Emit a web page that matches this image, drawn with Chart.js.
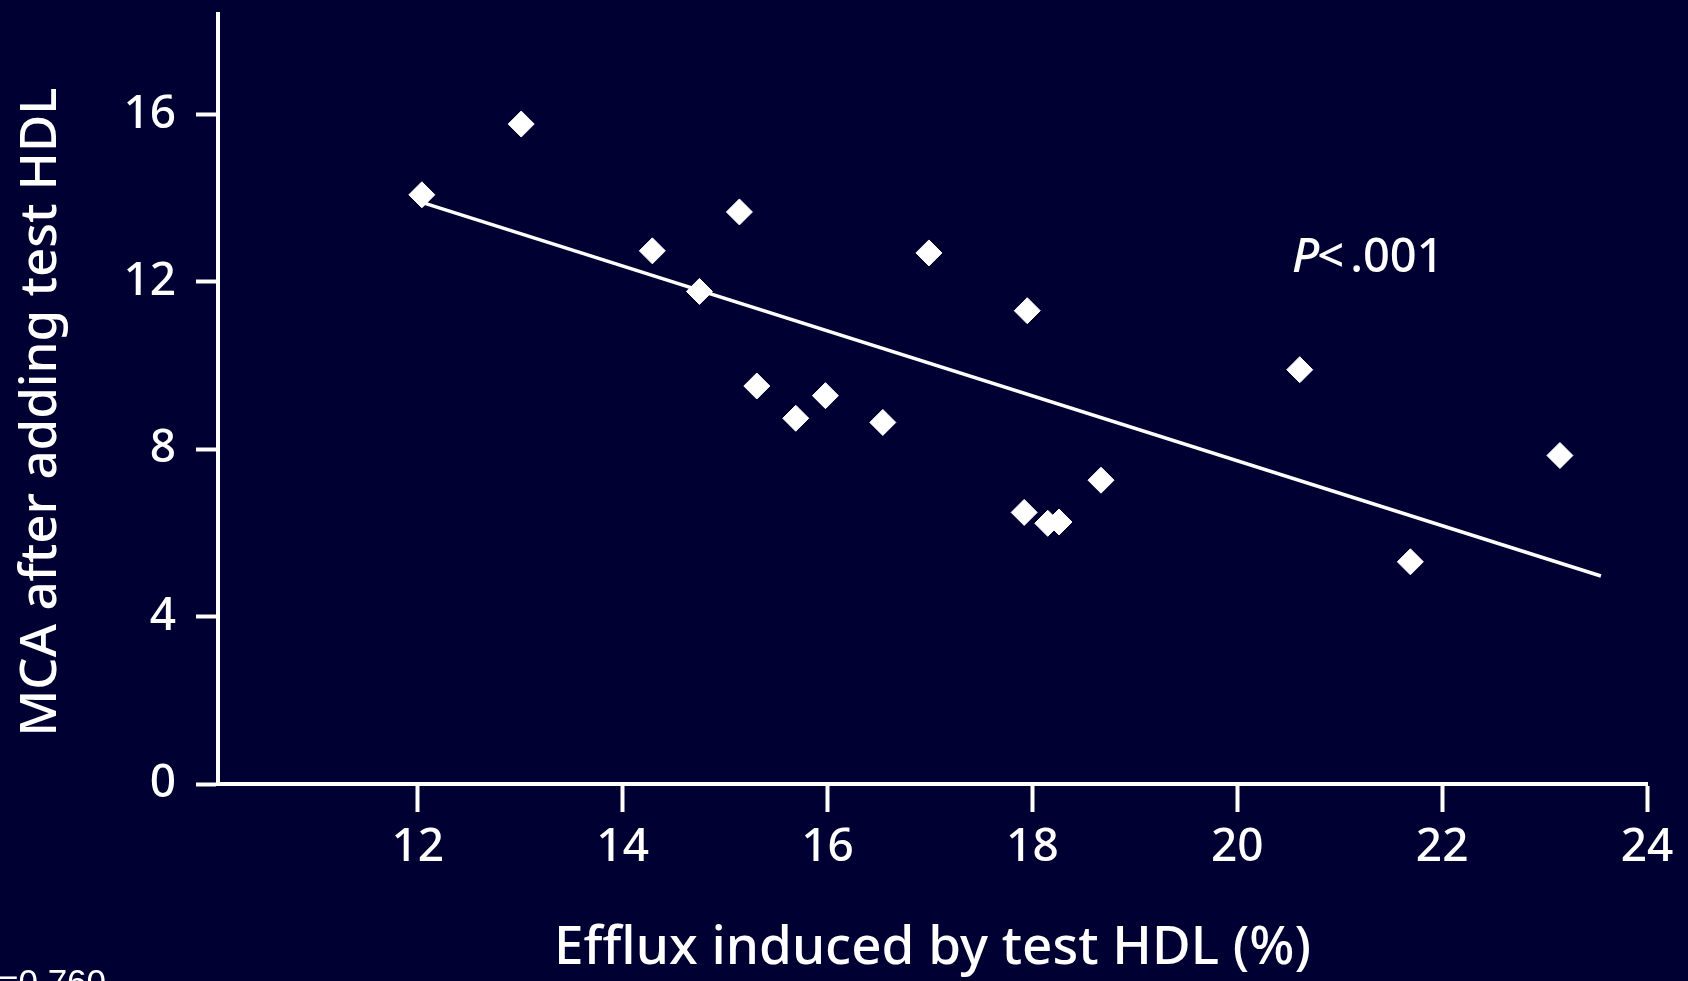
<!DOCTYPE html>
<html>
<head>
<meta charset="utf-8">
<script src="https://cdn.jsdelivr.net/npm/chart.js@4/dist/chart.umd.min.js"></script>
<style>
	html, body { margin: 0; padding: 0; background: #000032; }
	#wrap { width: 1688px; height: 981px; }
</style>
</head>
<body>
<div id="wrap"><canvas id="chart" width="1688" height="981"></canvas></div>
<script>
// data
const effluxX = [12.04, 13.01, 14.29, 14.75, 15.14, 15.31, 15.69, 15.98, 16.54, 16.99, 17.95, 17.92, 18.15, 18.26, 18.67, 20.61, 21.69, 23.15];
const mcaY = [14.08, 15.77, 12.74, 11.77, 13.67, 9.51, 8.74, 9.28, 8.64, 12.69, 11.31, 6.49, 6.23, 6.26, 7.26, 9.90, 5.31, 7.85];
const fitX = [12.04, 23.55];
const fitY = [13.90, 4.97];

const xTitle = "Efflux induced by test HDL (%)";
const yTitle = "MCA after adding test HDL";
const pNote = ".001";
const rNote = "=0.760";

const ink = "#ffffff";
const fontFamily = "'Noto Sans', 'Open Sans', sans-serif";
const weight = 500;

// extra texts: rotated y title, P value, r value
const notes = {
	id: "notes",
	afterDraw(chart) {
		const ctx = chart.ctx;
		ctx.save();
		ctx.fillStyle = ink;
		ctx.textBaseline = "middle";

		ctx.save();
		ctx.translate(41, 412);
		ctx.rotate(-Math.PI / 2);
		ctx.textAlign = "center";
		ctx.font = `${weight} 51px ${fontFamily}`;
		ctx.fillText(yTitle, 0, 0);
		ctx.restore();

		ctx.textAlign = "left";
		ctx.textBaseline = "alphabetic";
		ctx.font = `italic ${weight} 47px ${fontFamily}`;
		ctx.fillText("P", 1292, 272);
		let w = ctx.measureText("P").width;
		ctx.font = `${weight} 47px ${fontFamily}`;
		ctx.fillText("<", 1292 + w - 2, 272);
		w += ctx.measureText("<").width;
		ctx.fillText(pNote, 1292 + w + 4, 272);

		ctx.font = "35px 'Liberation Sans', Arial, sans-serif";
		ctx.fillText(rNote, -2, 994);
		ctx.restore();
	}
};

// keep the plot box fixed, no automatic label padding
const noPad = (s) => {
	s.paddingTop = 0;
	s.paddingBottom = 0;
	s.paddingLeft = 0;
	s.paddingRight = 0;
};

new Chart(document.getElementById("chart"), {
	type: "scatter",
	data: {
		datasets: [
			{
				data: effluxX.map((x, i) => ({ x, y: mcaY[i] })),
				pointStyle: "rectRot",
				pointRadius: 13,
				pointBackgroundColor: ink,
				pointBorderColor: ink,
				pointBorderWidth: 1,
				showLine: false
			},
			{
				type: "line",
				data: fitX.map((x, i) => ({ x, y: fitY[i] })),
				borderColor: ink,
				borderWidth: 3.5,
				pointRadius: 0,
				fill: false
			}
		]
	},
	options: {
		responsive: false,
		animation: false,
		layout: { padding: { top: 12, right: 41, left: 0, bottom: 0 } },
		plugins: { legend: { display: false }, tooltip: { enabled: false } },
		scales: {
			x: {
				type: "linear",
				min: 10.05,
				max: 24,
				afterFit: (s) => { s.height = 197; noPad(s); },
				border: { color: ink, width: 4 },
				grid: { drawOnChartArea: false, tickLength: 28, tickWidth: 4, tickColor: ink },
				ticks: { stepSize: 2, includeBounds: false, color: ink, padding: 8, font: { family: fontFamily, size: 46, weight } },
				title: { display: true, text: xTitle, color: ink, padding: { top: 0, bottom: 0 }, font: { family: fontFamily, size: 53, weight } }
			},
			y: {
				type: "linear",
				min: 0,
				max: 18.4,
				afterFit: (s) => { s.width = 218; noPad(s); },
				border: { color: ink, width: 4 },
				grid: { drawOnChartArea: false, tickLength: 22, tickWidth: 4, tickColor: ink },
				ticks: { stepSize: 4, includeBounds: false, color: ink, padding: 20, font: { family: fontFamily, size: 46, weight } }
			}
		}
	},
	plugins: [notes]
});
</script>
</body>
</html>
